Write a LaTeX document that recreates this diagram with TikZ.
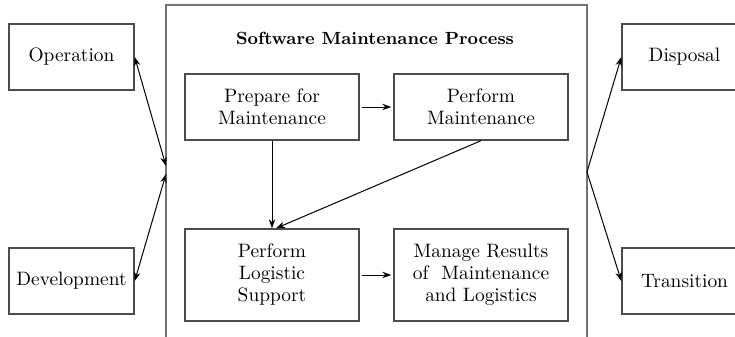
\documentclass[tikz,border=0pt]{standalone}
\usetikzlibrary{arrows.meta}
\tikzset{>={Stealth[length=4.5pt, width=3.2pt]}}
\tikzset{stage/.style={draw=black!70, line width=0.7pt, inner sep=0pt, align=center,
    font=\fontsize{9.7}{11}\selectfont},
  outer/.style={stage, minimum width=62.5pt, minimum height=33pt},
  inner/.style={stage, minimum width=87pt}}

\begin{document}
\begin{tikzpicture}[x=0.5pt, y=-0.5pt]
    \clip (0,0) rectangle (735,337);
    % process frame, open at the bottom
    \draw[black!55, line width=0.7pt] (166,345) -- (166,5) -- (587,5) -- (587,345);
    \node[font=\fontsize{8.8}{10}\selectfont\bfseries] (title) at (375,38) {Software Maintenance Process};
    \coordinate (jl1) at (166,166);
    \coordinate (jl2) at (166,174);
    \coordinate (jr) at (587,172);
    \node[outer] (op) at (71.5,57) {Operation};
    \node[outer] (dev) at (71.5,281) {Development};
    \node[outer] (disp) at (684.5,57) {Disposal};
    \node[outer] (trans) at (684.5,281) {Transition};
    \node[inner, minimum height=33pt] (prep) at (272,107) {Prepare for\\Maintenance};
    \node[inner, minimum height=33pt] (perf) at (481,107) {Perform\\Maintenance};
    \node[inner, minimum height=46pt] (logi) at (272,275) {Perform\\Logistic\\Support};
    \node[inner, minimum height=46pt] (mng) at (481,275) {Manage Results\\of~~Maintenance\\and Logistics};
    \draw[<->, line width=0.5pt] (op.east) -- (jl1);
    \draw[<->, line width=0.5pt] (dev.east) -- (jl2);
    \draw[->, line width=0.5pt] (jr) -- (disp.west);
    \draw[->, line width=0.5pt] (jr) -- (trans.west);
    \draw[->, line width=0.5pt] ([xshift=1pt]prep.east) -- ([xshift=-1pt]perf.west);
    \draw[->, line width=0.5pt] (prep.south) -- (logi.north);
    \draw[->, line width=0.5pt] (perf.south) -- ([xshift=2pt]logi.north);
    \draw[->, line width=0.5pt] ([xshift=1pt]logi.east) -- ([xshift=-1pt]mng.west);
\end{tikzpicture}
\end{document}
